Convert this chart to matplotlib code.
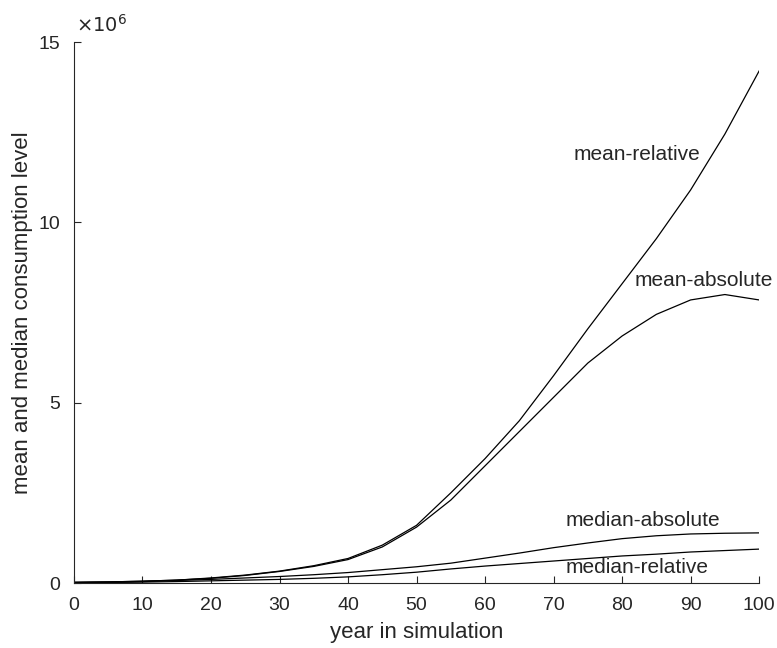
import matplotlib.pyplot as plt

plt.rcParams["font.family"] = ["Liberation Sans", "DejaVu Sans"]

# year in simulation
years = [0, 5, 10, 15, 20, 25, 30, 35, 40, 45, 50, 55, 60, 65, 70, 75, 80, 85, 90, 95, 100]

# consumption level, in millions
mean_relative = [0.02, 0.03, 0.05, 0.08, 0.14, 0.22, 0.33, 0.48, 0.68, 1.05, 1.6, 2.5, 3.45,
                 4.5, 5.75, 7.05, 8.3, 9.55, 10.9, 12.45, 14.2]
mean_absolute = [0.02, 0.03, 0.05, 0.08, 0.13, 0.21, 0.32, 0.46, 0.65, 1.0, 1.55, 2.3, 3.25,
                 4.2, 5.15, 6.1, 6.85, 7.45, 7.85, 8.0, 7.85]
median_absolute = [0.01, 0.02, 0.04, 0.07, 0.1, 0.14, 0.18, 0.23, 0.29, 0.37, 0.45, 0.55, 0.69,
                   0.83, 0.98, 1.11, 1.23, 1.31, 1.36, 1.38, 1.39]
median_relative = [0.01, 0.015, 0.025, 0.04, 0.06, 0.08, 0.1, 0.13, 0.17, 0.23, 0.3, 0.39, 0.47,
                   0.54, 0.61, 0.68, 0.75, 0.8, 0.86, 0.9, 0.94]

grey = "#262626"

fig = plt.figure(figsize=(7.77, 6.48), dpi=100)
ax = fig.add_axes([0.0952, 0.1003, 0.8818, 0.8347])

for series in (mean_relative, mean_absolute, median_absolute, median_relative):
    ax.plot(years, series, color="black", linewidth=0.9)

ax.text(82.2, 11.87, "mean-relative", ha="center", va="center", fontsize=15, color=grey)
ax.text(91.9, 8.4, "mean-absolute", ha="center", va="center", fontsize=15, color=grey)
ax.text(83.1, 1.72, "median-absolute", ha="center", va="center", fontsize=15, color=grey)
ax.text(82.2, 0.44, "median-relative", ha="center", va="center", fontsize=15, color=grey)

ax.set_xlim(0, 100)
ax.set_ylim(0, 15)
ax.set_xticks(range(0, 101, 10))
ax.set_yticks([0, 5, 10, 15])
ax.tick_params(direction="in", length=5, labelsize=14, labelcolor=grey, color=grey)
ax.tick_params(axis="x", pad=10)
ax.tick_params(axis="y", pad=10)
ax.spines["top"].set_visible(False)
ax.spines["right"].set_visible(False)
ax.spines["left"].set_color(grey)
ax.spines["bottom"].set_color(grey)
ax.set_xlabel("year in simulation", fontsize=16, color=grey, labelpad=6)
ax.set_ylabel("mean and median consumption level", fontsize=16, color=grey, labelpad=4)
ax.text(0.003, 1.012, r"$\times10^6$", transform=ax.transAxes, fontsize=14, color=grey,
        va="bottom", ha="left")

fig.savefig("out.png", dpi=100)
